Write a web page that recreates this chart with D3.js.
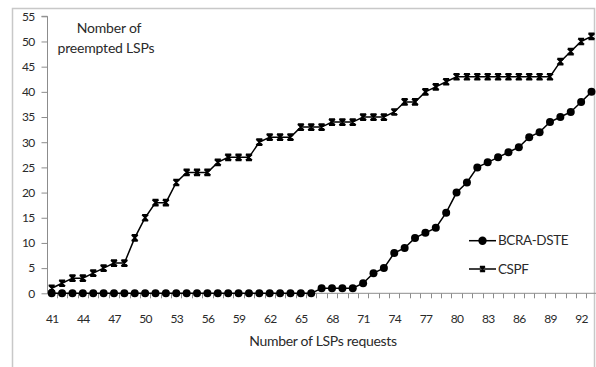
<!DOCTYPE html>
<html>
<head>
<meta charset="utf-8">
<script src="https://cdn.jsdelivr.net/npm/d3@7/dist/d3.min.js"></script>
<style>
  html, body { margin: 0; padding: 0; background: #fff; }
  svg text { font-family: Lato, "Open Sans", sans-serif; fill: #2a2a2a; }
</style>
</head>
<body>
<svg id="chart" width="596" height="367"></svg>
<script>
// Number of LSP requests (category axis)
const categories = [41,42,43,44,45,46,47,48,49,50,51,52,53,54,55,56,57,58,59,60,
  61,62,63,64,65,66,67,68,69,70,71,72,73,74,75,76,77,78,79,80,
  81,82,83,84,85,86,87,88,89,90,91,92,93];

// Preempted LSPs per scheme
const bcraDste = [0,0,0,0,0,0,0,0,0,0,0,0,0,0,0,0,0,0,0,0,
  0,0,0,0,0,0,1,1,1,1,2,4,5,8,9,11,12,13,16,20,
  22,25,26,27,28,29,31,32,34,35,36,38,40];
const cspf = [1,2,3,3,4,5,6,6,11,15,18,18,22,24,24,24,26,27,27,27,
  30,31,31,31,33,33,33,34,34,34,35,35,35,36,38,38,40,41,42,43,
  43,43,43,43,43,43,43,43,43,46,48,50,51];

const yTicks = [0,5,10,15,20,25,30,35,40,45,50,55];
const xTickLabels = [41,44,47,50,53,56,59,62,65,68,71,74,77,80,83,86,89,92];

const seriesNames = ["BCRA-DSTE", "CSPF"];

const svg = d3.select("#chart");

// chart frame
svg.append("rect")
  .attr("x", 12.5).attr("y", 8.5)
  .attr("width", 582).attr("height", 360)
  .attr("fill", "none").attr("stroke", "#c8c8c8").attr("stroke-width", 1.5);

const x = d3.scalePoint().domain(categories).range([51.7, 591.5]);
const step = x.step();
const y = d3.scaleLinear().domain([0, 55]).range([293.3, 16.3]);

const axisColor = "#8c8c8c";

// y axis
const yAxis = svg.append("g")
  .attr("transform", "translate(47.5,0)")
  .call(d3.axisLeft(y).tickValues(yTicks).tickSize(6).tickPadding(7));
yAxis.select(".domain").attr("stroke", axisColor).attr("d", `M-6,${y(55)}H0V${y(0)}`);
yAxis.selectAll(".tick line").attr("stroke", axisColor);
yAxis.selectAll(".tick text").style("font-size", "12px").style("letter-spacing", "-0.7px");

// x axis: labels every third category, tick marks between categories
const xAxis = svg.append("g")
  .attr("transform", `translate(0,${y(0)})`)
  .call(d3.axisBottom(x).tickValues(xTickLabels).tickSize(0).tickPadding(21));
xAxis.select(".domain").attr("stroke", axisColor).attr("d", `M47.5,0H596`);
xAxis.selectAll(".tick text").style("font-size", "12px").style("letter-spacing", "-0.7px");
xAxis.selectAll(".minor")
  .data(categories)
  .join("line")
  .attr("class", "minor")
  .attr("x1", d => Math.round(x(d) + step / 2) + 0.5)
  .attr("x2", d => Math.round(x(d) + step / 2) + 0.5)
  .attr("y1", 0).attr("y2", 5)
  .attr("stroke", axisColor);

// axis titles
svg.append("text")
  .attr("x", 323).attr("y", 346)
  .attr("text-anchor", "middle")
  .style("font-size", "14px").style("letter-spacing", "-0.3px")
  .text("Number of LSPs requests");

const yTitle = svg.append("text")
  .attr("text-anchor", "middle")
  .style("font-size", "14px").style("letter-spacing", "-0.2px");
yTitle.append("tspan").attr("x", 109).attr("y", 33).text("Nomber of");
yTitle.append("tspan").attr("x", 106).attr("y", 53).text("preempted LSPs");

// series
const line = d3.line().x((d, i) => x(categories[i])).y(d => y(d));

const star = (g, size) => {
  const s = size / 2;
  g.append("path")
    .attr("d", `M${-s},${-s}L${s},${s}M${-s},${s}L${s},${-s}M0,${-s}V${s}M${-s},${-s}H${s}M${-s},${s}H${s}`)
    .attr("stroke", "#000").attr("stroke-width", 1.7).attr("fill", "none");
};

svg.append("path").datum(cspf)
  .attr("d", line).attr("fill", "none").attr("stroke", "#000").attr("stroke-width", 1.5);
svg.append("path").datum(bcraDste)
  .attr("d", line).attr("fill", "none").attr("stroke", "#000").attr("stroke-width", 1.5);

svg.append("g").selectAll("g")
  .data(cspf)
  .join("g")
  .attr("transform", (d, i) => `translate(${x(categories[i])},${y(d)})`)
  .each(function () { star(d3.select(this), 6); });

svg.append("g").selectAll("circle")
  .data(bcraDste)
  .join("circle")
  .attr("cx", (d, i) => x(categories[i]))
  .attr("cy", d => y(d))
  .attr("r", 4)
  .attr("fill", "#000");

// legend
const legend = svg.append("g");
const legendRows = [{ name: seriesNames[0], y: 240.7 }, { name: seriesNames[1], y: 269 }];
legendRows.forEach((r, i) => {
  legend.append("line")
    .attr("x1", 469).attr("x2", 496).attr("y1", r.y).attr("y2", r.y)
    .attr("stroke", "#000").attr("stroke-width", 1.5);
  if (i === 0) {
    legend.append("circle").attr("cx", 482.5).attr("cy", r.y).attr("r", 4.2).attr("fill", "#000");
  } else {
    const g = legend.append("g").attr("transform", `translate(482.5,${r.y})`);
    star(g, 5);
  }
  legend.append("text")
    .attr("x", 498).attr("y", r.y).attr("dy", "0.35em")
    .style("font-size", "13.5px").style("letter-spacing", "-0.4px")
    .text(r.name);
});
</script>
</body>
</html>
